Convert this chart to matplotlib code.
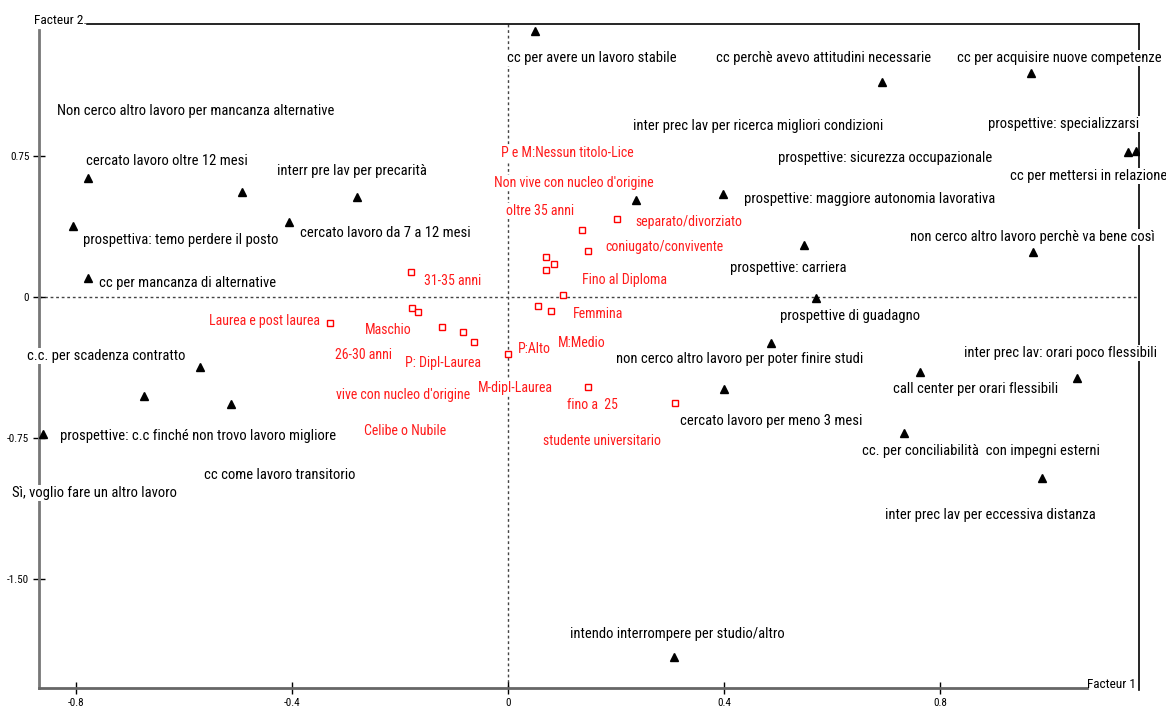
import matplotlib.pyplot as plt
from matplotlib import font_manager

# active categories (black triangles): factor 1, factor 2
act_x = [0.050, 0.693, 0.969, 1.148, 1.163, 0.237, 0.398, 0.548, 0.972, 0.570,
         0.487, 0.763, 1.054, 0.400, 0.733, 0.989, 0.307,
         -0.778, -0.493, -0.280, -0.806, -0.406, -0.778, -0.570, -0.674, -0.513, -0.861]
act_y = [1.415, 1.144, 1.191, 0.771, 0.777, 0.516, 0.548, 0.277, 0.239, -0.005,
         -0.245, -0.399, -0.431, -0.489, -0.723, -0.963, -1.915,
         0.633, 0.559, 0.532, 0.378, 0.399, 0.101, -0.372, -0.527, -0.569, -0.729]

# supplementary categories (red squares)
sup_x = [-0.180, 0.137, 0.202, 0.148, 0.070, 0.085, 0.070, 0.102, 0.056, 0.080,
         -0.330, -0.178, -0.167, -0.122, -0.083, -0.063, 0.000, 0.148, 0.309]
sup_y = [0.133, 0.356, 0.415, 0.245, 0.213, 0.176, 0.144, 0.011, -0.048, -0.074,
         -0.138, -0.059, -0.080, -0.160, -0.186, -0.239, -0.303, -0.479, -0.564]

act_labels = [
    "cc per avere un lavoro stabile", "cc perchè avevo attitudini necessarie",
    "cc per acquisire nuove competenze", "inter prec lav per ricerca migliori condizioni",
    "prospettive: specializzarsi", "prospettive: sicurezza occupazionale",
    "cc per mettersi in relazione", "prospettive: maggiore autonomia lavorativa",
    "non cerco altro lavoro perchè va bene così", "prospettive: carriera",
    "prospettive di guadagno", "non cerco altro lavoro per poter finire studi",
    "inter prec lav: orari poco flessibili", "call center per orari flessibili",
    "cercato lavoro per meno 3 mesi", "cc. per conciliabilità  con impegni esterni",
    "inter prec lav per eccessiva distanza", "intendo interrompere per studio/altro",
    "Non cerco altro lavoro per mancanza alternative", "cercato lavoro oltre 12 mesi",
    "interr pre lav per precarità", "prospettiva: temo perdere il posto",
    "cercato lavoro da 7 a 12 mesi", "cc per mancanza di alternative",
    "c.c. per scadenza contratto", "prospettive: c.c finché non trovo lavoro migliore",
    "cc come lavoro transitorio", "Sì, voglio fare un altro lavoro",
]
act_lab_x = [-0.002, 0.385, 0.831, 0.231, 0.889, 0.500, 0.930, 0.437, 0.744, 0.411,
             0.504, 0.200, 0.844, 0.713, 0.319, 0.656, 0.698, 0.115,
             -0.835, -0.781, -0.428, -0.787, -0.385, -0.757, -0.891, -0.831, -0.563, -0.919]
act_lab_y = [1.271, 1.271, 1.271, 0.910, 0.920, 0.739, 0.644, 0.521, 0.319, 0.154,
             -0.101, -0.330, -0.298, -0.489, -0.660, -0.819, -1.160, -1.793,
             0.989, 0.723, 0.670, 0.303, 0.340, 0.074, -0.314, -0.739, -0.947, -1.043]

sup_labels = [
    "P e M:Nessun titolo-Lice", "Non vive con nucleo d'origine", "oltre 35 anni",
    "separato/divorziato", "coniugato/convivente", "Fino al Diploma", "31-35 anni",
    "Femmina", "Laurea e post laurea", "Maschio", "M:Medio", "P:Alto", "26-30 anni",
    "P: Dipl-Laurea", "vive con nucleo d'origine", "M-dipl-Laurea", "fino a  25",
    "Celibe o Nubile", "studente universitario",
]
sup_lab_x = [-0.013, -0.026, -0.004, 0.235, 0.181, 0.137, -0.156, 0.120, -0.554, -0.265,
             0.093, 0.019, -0.320, -0.191, -0.319, -0.056, 0.109, -0.267, 0.065]
sup_lab_y = [0.766, 0.606, 0.457, 0.399, 0.266, 0.090, 0.085, -0.090, -0.128, -0.176,
             -0.245, -0.277, -0.309, -0.351, -0.521, -0.484, -0.574, -0.713, -0.766]

xticks = [-0.8, -0.4, 0, 0.4, 0.8]
xtick_labels = ["-0.8", "-0.4", "0", "0.4", "0.8"]
yticks = [0.75, 0, -0.75, -1.50]
ytick_labels = ["0.75", "0", "-0.75", "-1.50"]

installed = {f.name for f in font_manager.fontManager.ttflist}
font = next(f for f in ["Liberation Sans Narrow", "Arial Narrow", "Roboto Condensed",
                        "Archivo Narrow", "PT Sans Narrow", "Liberation Sans"] if f in installed)
plt.rcParams['font.family'] = [font, 'DejaVu Sans']

xmin, xmax = -0.869, 1.169
ymin, ymax = -2.08, 1.452

fig = plt.figure(figsize=(11.66, 7.11), dpi=100)
ax = fig.add_axes([39 / 1166, 23 / 711, 1100 / 1166, 664 / 711])
ax.set_xlim(xmin, xmax)
ax.set_ylim(ymin, ymax)

# zero lines
ax.axhline(0, color='#444444', linestyle=(0, (2, 2)), linewidth=1, zorder=1)
ax.axvline(0, color='#444444', linestyle=(0, (2, 2)), linewidth=1, zorder=1)

ax.plot(act_x, act_y, linestyle='none', marker='^', color='black', markersize=5.5, zorder=4)
ax.plot(sup_x, sup_y, linestyle='none', marker='s', markerfacecolor='white',
        markeredgecolor='red', markeredgewidth=1, markersize=4.5, zorder=4)

box = dict(facecolor='white', edgecolor='none', pad=0.5)
for t, x, y in zip(act_labels, act_lab_x, act_lab_y):
    ax.text(x, y, t, color='black', fontsize=10.5, ha='left', va='center', bbox=box, zorder=3)
for t, x, y in zip(sup_labels, sup_lab_x, sup_lab_y):
    ax.text(x, y, t, color='#ff1a1a', fontsize=10, ha='left', va='center', bbox=box, zorder=3)

# frame
for s in ['top', 'right']:
    ax.spines[s].set_visible(False)
ax.spines['left'].set_color('#777777')
ax.spines['left'].set_linewidth(2)
ax.spines['left'].set_bounds(ymin, ymax - 6 / 188)
ax.spines['bottom'].set_color('#666666')
ax.spines['bottom'].set_linewidth(2)
ax.spines['bottom'].set_bounds(xmin, 1.072)
ax.plot([-0.780, xmax], [ymax, ymax], color='black', linewidth=1.2, clip_on=False)
ax.plot([xmax, xmax], [ymax, ymin - 2 / 188], color='black', linewidth=1.2, clip_on=False)
ax.text(-0.780, ymax, "Facteur 2.", fontsize=9.6, ha='right', va='baseline')
ax.text(1.072, ymin, "Facteur 1", fontsize=9.5, ha='left', va='baseline')

ax.set_xticks(xticks)
ax.set_xticklabels(xtick_labels)
ax.set_yticks(yticks)
ax.set_yticklabels(ytick_labels)
ax.tick_params(direction='inout', length=8, width=1, color='black', labelsize=8, pad=3)

fig.savefig("out.png", dpi=100)
